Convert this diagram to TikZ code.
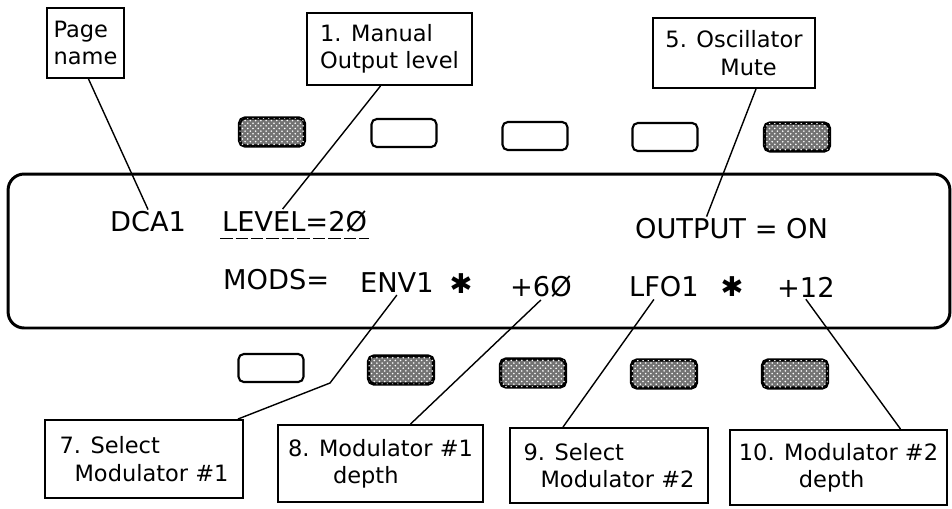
\documentclass[tikz,border=0pt]{standalone}
\usepackage{fontspec}
\setmainfont{DejaVu Sans}
\usetikzlibrary{calc,positioning,shadows,patterns}
\newcommand\lblfont{\fontsize{12.8}{15.5}\selectfont}
\newcommand\lcdfont{\fontsize{15.5}{18}\selectfont}
\tikzset{
  lbox/.style={draw, fill=white, line width=1.1pt, font=\lblfont, align=left,
               inner sep=2pt,
               drop shadow={shadow xshift=0.8pt, shadow yshift=-0.8pt, opacity=1, fill=black}},
  lcd/.style={draw, line width=1.7pt, rounded corners=0.32cm,
              minimum width=18.84cm, minimum height=3.08cm},
  lcdtxt/.style={font=\lcdfont, inner sep=1pt, anchor=west},
  btnoff/.style={draw, fill=white, line width=1.2pt, rounded corners=3pt,
                 minimum width=1.3cm, minimum height=0.56cm},
  btnon/.style={draw, fill=black!55, line width=1.8pt, rounded corners=3pt,
                minimum width=1.3cm, minimum height=0.56cm,
                postaction={pattern=crosshatch dots, pattern color=white}},
  leader/.style={line width=0.8pt},
}
\begin{document}
\begin{tikzpicture}[x=0.02cm, y=-0.02cm]
\useasboundingbox (0,0) rectangle (952,508);

% display window
\node[lcd] (display) at (479,251) {};

% soft keys above the display
\foreach \n/\x/\y in {1/272/132, 5/797/137}
  \node[btnon] (topkey\n) at (\x,\y) {};
\foreach \n/\x/\y in {2/404/133, 3/535/136, 4/665/137}
  \node[btnoff] (topkey\n) at (\x,\y) {};
% soft keys below the display
\node[btnoff] (botkey1) at (271,368) {};
\foreach \n/\x/\y in {2/401/370, 3/533/373, 4/664/374, 5/795/374}
  \node[btnon] (botkey\n) at (\x,\y) {};

% display text
\node[lcdtxt] (dca) at (108,222) {DCA1};
\node[lcdtxt] (level) at (220,222) {LEVEL=2Ø};
\node[lcdtxt] (output) at (633,229) {OUTPUT = ON};
\node[lcdtxt] (mods) at (221,280) {MODS=};
\node[lcdtxt] (envA) at (358,283) {ENV1};
\node[lcdtxt, anchor=center] (timesA) at (461,284) {✱};
\node[lcdtxt] (depthA) at (508,287) {+6Ø};
\node[lcdtxt] (lfoA) at (627,287) {LFO1};
\node[lcdtxt, anchor=center] (timesB) at (732,287) {✱};
\node[lcdtxt] (depthB) at (775,287) {+12};
\draw[dash pattern=on 0.25cm off 0.06cm, line width=0.8pt]
  ([yshift=-2pt]level.south west) -- ([yshift=-2pt]level.south east);

% callout boxes
\node[lbox, minimum width=1.54cm, minimum height=1.4cm] (pagename) at (85.5,43) {Page\\name};
\node[lbox, minimum width=3.3cm, minimum height=1.44cm] (manual) at (389.5,49) {1. Manual\\Output level};
\node[lbox, minimum width=3.24cm, minimum height=1.4cm] (oscmute) at (734,53) {5. Oscillator\\\hspace{1.1cm}Mute};
\node[lbox, minimum width=3.96cm, minimum height=1.56cm] (selmodA) at (144,459) {7. Select\\\hspace{0.3cm}Modulator \#1};
\node[lbox, minimum width=4.1cm, minimum height=1.54cm] (moddepA) at (380.5,463.5) {8. Modulator \#1\\\hspace{0.9cm}depth};
\node[lbox, minimum width=3.96cm, minimum height=1.5cm] (selmodB) at (609,465.5) {9. Select\\\hspace{0.34cm}Modulator \#2};
\node[lbox, minimum width=4.34cm, minimum height=1.5cm] (moddepB) at (838.5,467.5) {10. Modulator \#2\\\hspace{1.2cm}depth};

% leader lines
\draw[leader] ($(pagename.south)+(3,0)$) -- (dca.north);
\draw[leader] ($(manual.south)+(-9,0)$) -- ($(level.north)+(-12,0)$);
\draw[leader] ($(oscmute.south)+(22,0)$) -- ($(output.north)+(-25,0)$);
\coordinate (bendA) at (330,383);
\draw[leader] (envA.south) -- (bendA) -- ($(selmodA.north east)+(-6,0)$);
\draw[leader] (depthA.south) -- ($(moddepA.north)+(30,0)$);
\draw[leader] ($(lfoA.south)+(-10,0)$) -- ($(selmodB.north)+(-46,0)$);
\draw[leader] (depthB.south) -- ($(moddepB.north)+(62,0)$);
\end{tikzpicture}
\end{document}
